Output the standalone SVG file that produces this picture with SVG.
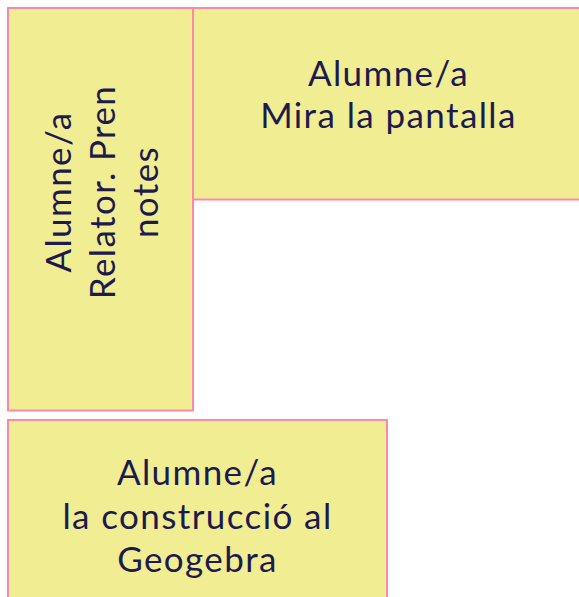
<svg xmlns="http://www.w3.org/2000/svg" width="579" height="597" viewBox="0 0 579 597">
<style>
.box{fill:#f0ed93;stroke:#ff88aa;stroke-width:2}
.lbl{font-family:Lato,"Noto Sans",sans-serif;font-size:35px;letter-spacing:1.4px;fill:#1e1a4d;text-anchor:middle}
</style>
<rect width="579" height="597" fill="#ffffff"/>
<g id="node-relator">
<rect class="box" x="8" y="8" width="185" height="402.5"/>
<text class="lbl" transform="translate(0 192) rotate(-90)"><tspan x="0" y="71">Alumne/a</tspan><tspan x="0" y="114.5">Relator. Pren</tspan><tspan x="0" y="158">notes</tspan></text>
</g>
<g id="node-pantalla">
<rect class="box" x="193" y="8" width="391" height="191.5"/>
<text class="lbl"><tspan x="388.5" y="86">Alumne/a</tspan><tspan x="388.5" y="127.5">Mira la pantalla</tspan></text>
</g>
<g id="node-geogebra">
<rect class="box" x="8" y="420" width="379" height="190"/>
<text class="lbl"><tspan x="197.5" y="485">Alumne/a</tspan><tspan x="197.5" y="529">la construcció al</tspan><tspan x="197.5" y="572">Geogebra</tspan></text>
</g>
<g id="connectors"/>
</svg>
